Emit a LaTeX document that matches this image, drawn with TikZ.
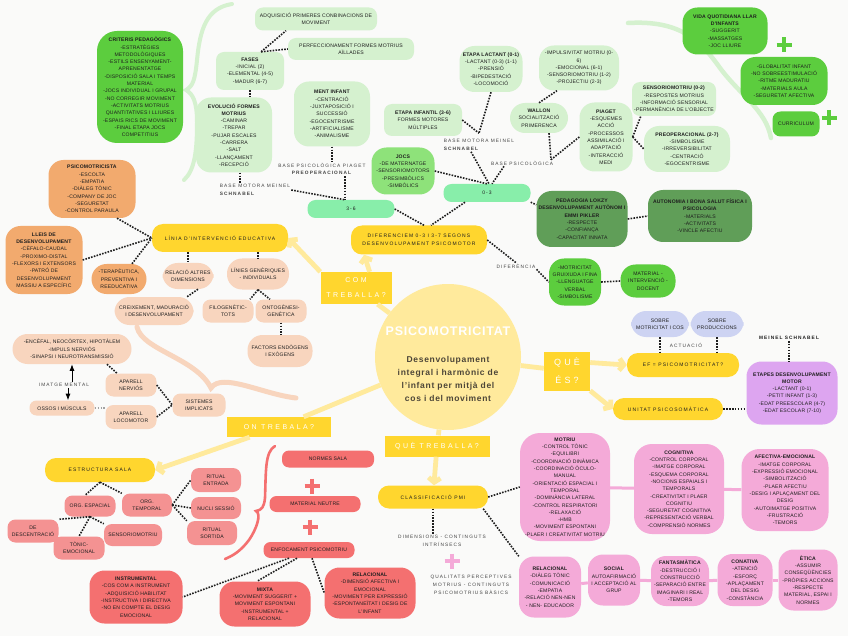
\documentclass[tikz,border=0pt]{standalone}
\usepackage{fontspec}
\setmainfont{Liberation Sans}
\newfontfamily\lletra[LetterSpace=3]{Liberation Sans}
\newfontfamily\lletrae[LetterSpace=22]{Liberation Sans}
\newfontfamily\lletral[LetterSpace=35]{Liberation Sans}
\newfontfamily\lletrat[LetterSpace=6]{Liberation Sans}
\newfontfamily\lletrad[LetterSpace=8]{Liberation Sans}
\usetikzlibrary{arrows.meta}
\definecolor{fons}{RGB}{250,250,249}
\definecolor{tinta}{RGB}{30,30,30}
\definecolor{gris}{RGB}{68,68,68}
\definecolor{marro}{RGB}{77,70,56}
\definecolor{groc}{RGB}{255,214,46}
\definecolor{grocc}{RGB}{255,234,156}
\definecolor{verdc}{RGB}{213,241,207}
\definecolor{menta}{RGB}{136,238,170}
\definecolor{verdm}{RGB}{142,226,122}
\definecolor{verd}{RGB}{92,205,62}
\definecolor{verdf}{RGB}{96,158,88}
\definecolor{taronja}{RGB}{242,170,110}
\definecolor{presseg}{RGB}{248,213,190}
\definecolor{lila}{RGB}{205,211,242}
\definecolor{morat}{RGB}{221,165,240}
\definecolor{vermell}{RGB}{244,146,146}
\definecolor{vermellf}{RGB}{244,112,112}
\definecolor{rosa}{RGB}{244,170,216}
\newcommand{\creu}[3]{\draw[#3,line width=3.8pt] (#1-7.5,#2) -- (#1+7.5,#2) (#1,#2-7.5) -- (#1,#2+7.5);}

\begin{document}
\begin{tikzpicture}[x=1pt,y=-1pt,>=Latex,
 b/.style={rounded corners=8pt,align=center,inner sep=1.5pt,font=\lletra\fontsize{5.1}{7.3}\selectfont,text=tinta},
 mida/.style 2 args={minimum width=#1,minimum height=#2},
 gran/.style={rounded corners=15pt},
 pill/.style={rounded corners=7pt},
 vc/.style={b,fill=verdc}, vm/.style={b,fill=verdm}, vv/.style={b,fill=verd}, vf/.style={b,fill=verdf},
 ta/.style={b,fill=taronja}, pr/.style={b,fill=presseg}, ll/.style={b,fill=lila}, mo/.style={b,fill=morat},
 vr/.style={b,fill=vermell}, vrf/.style={b,fill=vermellf}, rs/.style={b,fill=rosa},
 gr/.style={b,fill=groc,rounded corners=11pt,font=\lletrae\fontsize{5}{8}\selectfont},
 barra/.style={b,fill=menta,mida={87}{18},font=\lletrae\fontsize{5}{7}\selectfont},
 etiq/.style={fill=groc,text=white,align=center,inner sep=1pt,font=\lletral\fontsize{7}{15}\selectfont},
 n/.style={align=center,inner sep=1pt,text=gris,font=\lletrae\fontsize{4.8}{7.8}\selectfont},
 punts/.style={draw=tinta,line width=1.6pt,dash pattern=on 1.6pt off 1.3pt},
 tija/.style={draw=grocc,line width=4.8pt},
 fletxa/.style={tija,-{Straight Barb[length=4.5pt,width=12pt]}},
 rosal/.style={draw=rosa,line width=3pt}]
 \fill[fons] (0,0) rectangle (848,636);
 \useasboundingbox (0,0) rectangle (848,636);
 % claus decoratives
 \draw[verdc,line width=4pt,line cap=round] (232,4) .. controls (206,8) and (200,30) .. (197,60) .. controls (195,80) and (193,86) .. (186,90) .. controls (193,94) and (197,102) .. (197,122) .. controls (197,150) and (195,170) .. (184,180);
 \draw[verdc,line width=4.5pt,line cap=round] (628,23) .. controls (680,20) and (700,40) .. (720,68) .. controls (740,95) and (766,110) .. (771,138);
 \draw[presseg,line width=5pt,line cap=round] (137,327) .. controls (142,350) and (196,358) .. (211,388) .. controls (222,372) and (262,394) .. (296,398);
 \draw[vermellf,line width=2.6pt,line cap=round] (275,446) .. controls (265,452) and (266,470) .. (265,498) .. controls (264,507) and (262,510) .. (256,511) .. controls (262,514) and (256,530) .. (249,540) .. controls (240,552) and (232,556) .. (225,559);

 % centre
 \node[circle,fill=grocc,minimum size=146] (centre) at (448,357) {};
 \node[text=white,font=\lletrat\bfseries\fontsize{12.5}{14}\selectfont] (titol) at (448,331) {PSICOMOTRICITAT};
 \node[text=marro,align=center,font=\lletrad\bfseries\fontsize{8.5}{12.7}\selectfont] (defin) at (448,379) {Desenvolupament\\integral i harmònic de\\l’infant per mitjà del\\cos i del moviment};
 \node[etiq,minimum width=71,minimum height=32] (com) at (356,288) {COM\\TREBALLA?};
 \node[etiq,minimum width=46,minimum height=39,font=\lletral\fontsize{9}{18}\selectfont] (que) at (567,371) {QUÈ\\ÉS?};
 \node[etiq,minimum width=104,minimum height=20] (on) at (279,427) {ON TREBALA?};
 \node[etiq,minimum width=105,minimum height=21] (qt) at (437,446) {QUÈ TREBALLA?};

 % verd clar
 \node[vc,mida={122}{23}] (adq) at (316,19) {ADQUISICIÓ PRIMERES CONBINACIONS DE\\MOVIMENT};
 \node[vc,mida={126}{22}] (perf) at (351,49) {PERFECCIONAMENT FORMES MOTRIUS\\AÏLLADES};
 \node[vc,mida={68}{38}] (fases) at (250,71) {\textbf{FASES}\\-INICIAL (2)\\-ELEMENTAL (4-5)\\-MADUR (6-7)};
 \node[vc,gran,mida={76}{75}] (evol) at (234,135) {\textbf{EVOLUCIÓ FORMES}\\\textbf{MOTRIUS}\\-CAMINAR\\-TREPAR\\-PUJAR ESCALES\\-CARRERA\\-SALT\\-LLANÇAMENT\\-RECEPCIÓ};
 \node[vc,gran,mida={76}{65}] (ment) at (332,114) {\textbf{MENT INFANT}\\-CENTRACIÓ\\-JUXTAPOSICIÓ I\\SUCCESSIÓ\\-EGOCENTRISME\\-ARTIFICIALISME\\-ANIMALISME};
 \node[vc,mida={78}{32}] (etinf) at (423,120) {\textbf{ETAPA INFANTIL (3-6)}\\FORMES MOTORES\\MÚLTIPLES};
 \node[vc,gran,mida={63}{46}] (lact) at (491,69) {\textbf{ETAPA LACTANT (0-1)}\\-LACTANT (0-3) (1-1)\\-PRENSIÓ\\-BIPEDESTACIÓ\\-LOCOMOCIÓ};
 \node[vc,gran,mida={80}{45}] (impuls) at (579,68) {-IMPULSIVITAT MOTRIU (0-\\6)\\-EMOCIONAL (6-1)\\-SENSORIOMOTRIU (1-2)\\-PROJECTIU (2-3)};
 \node[vc,gran,mida={58}{30}] (wallon) at (539,118) {\textbf{WALLON}\\SOCIALITZACIÓ\\PRIMERENCA};
 \node[vc,gran,mida={53}{69}] (piaget) at (606,137) {\textbf{PIAGET}\\-ESQUEMES\\ACCIÓ\\-PROCESSOS\\ASSIMILACIÓ I\\ADAPTACIÓ\\-INTERACCIÓ\\MEDI};
 \node[vc,mida={84}{34}] (sens) at (674,99) {\textbf{SENSORIOMOTRIU (0-2)}\\-RESPOSTES MOTRIUS\\-INFORMACIÓ SENSORIAL\\-PERMANÈNCIA DE L'OBJECTE};
 \node[vc,gran,mida={86}{46}] (preop) at (687,149) {\textbf{PREOPERACIONAL (2-7)}\\-SIMBOLISME\\-IRREVERSIBILITAT\\-CENTRACIÓ\\-EGOCENTRISME};
 \node[barra] (b03) at (487,193) {0-3};
 \node[barra] (b36) at (351,209) {3-6};
 \node[vm,gran,mida={63}{47}] (jocs) at (403,171) {\textbf{JOCS}\\-DE MATERNATGE\\-SENSORIOMOTORS\\-PRESIMBÒLICS\\-SIMBÒLICS};

 % verd
 \node[vv,rounded corners=20pt,mida={86}{112}] (crit) at (140,87) {\textbf{CRITERIS PEDAGÒGICS}\\-ESTRATÈGIES\\METODOLÒGIQUES\\-ESTILS ENSENYAMENT-\\APRENENTATGE\\-DISPOSICIÓ SALA I TEMPS\\MATERIAL\\-JOCS INDIVIDUAL I GRUPAL\\-NO CORREGIR MOVIMENT\\-ACTIVITATS MOTRIUS\\QUANTITATIVES I LLIURES\\-ESPAIS RICS DE MOVIMENT\\-FINAL ETAPA JOCS\\COMPETITIUS};
 \node[vv,gran,mida={85}{47}] (vida) at (725,31) {\textbf{VIDA QUOTIDIANA LLAR}\\\textbf{D'INFANTS}\\-SUGGERIT\\-MASSATGES\\-JOC LLIURE};
 \node[vv,gran,mida={87}{48}] (glob) at (784,81) {-GLOBALITAT INFANT\\-NO SOBREESTIMULACIÓ\\-RITME MADURATIU\\-MATERIALS AULA\\-SEGURETAT AFECTIVA};
 \node[vv,mida={47}{25}] (curr) at (796,124) {CURRICULUM};
 \node[vv,gran,mida={52}{47}] (motr) at (575,282) {-MOTRICITAT\\GRUIXUDA I FINA\\-LLENGUATGE\\VERBAL\\-SIMBOLISME};
 \node[vv,gran,mida={55}{33}] (mat) at (648,281) {MATERIAL -\\INTERVENCIÓ -\\DOCENT};

 % verd fosc
 \node[vf,gran,mida={91}{56}] (ped) at (582,219) {\textbf{PEDAGOGIA LOKZY}\\\textbf{DESENVOLUPAMENT AUTÒNOM I}\\\textbf{EMMI PIKLER}\\-RESPECTE\\-CONFIANÇA\\-CAPACITAT INNATA};
 \node[vf,gran,mida={104}{52}] (aut) at (700,216) {\textbf{AUTONOMIA I BONA SALUT FÍSICA I}\\\textbf{PSICOLOGIA}\\-MATERIALS\\-ACTIVITATS\\-VINCLE AFECTIU};

 % lila i morat
 \node[ll,gran,mida={58}{26}] (sob1) at (660,324) {SOBRE\\MOTRICITAT I COS};
 \node[ll,gran,mida={53}{26}] (sob2) at (717,324) {SOBRE\\PRODUCCIONS};
 \node[mo,gran,mida={91}{63}] (etapes) at (792,393) {\textbf{ETAPES DESENVOLUPAMENT}\\\textbf{MOTOR}\\-LACTANT (0-1)\\-PETIT INFANT (1-3)\\-EDAT PREESCOLAR (4-7)\\-EDAT ESCOLAR (7-10)};

 % groc
 \node[gr,mida={136}{28}] (linia) at (220,238) {LÍNIA D'INTERVENCIÓ EDUCATIVA};
 \node[gr,mida={136}{29}] (dif) at (419,240) {DIFERENCIEM 0-3 I 3-7 SEGONS\\DESENVOLUPAMENT PSICOMOTOR};
 \node[gr,mida={112}{24}] (ef) at (683,365) {EF = PSICOMOTRICITAT?};
 \node[gr,mida={110}{22}] (unitat) at (668,409) {UNITAT PSICOSOMÀTICA};
 \node[gr,mida={110}{24}] (estr) at (100,470) {ESTRUCTURA SALA};
 \node[gr,mida={110}{23}] (classif) at (433,497) {CLASSIFICACIÓ PMI};

 % taronja i pressec
 \node[ta,gran,mida={87}{58}] (psicm) at (92,189) {\textbf{PSICOMOTRICISTA}\\-ESCOLTA\\-EMPATIA\\-DIÀLEG TÒNIC\\-COMPANY DE JOC\\-SEGURETAT\\-CONTROL PARAULA};
 \node[ta,gran,mida={77}{68}] (lleis) at (44,260) {\textbf{LLEIS DE}\\\textbf{DESENVOLUPAMENT}\\-CÈFALO-CAUDAL\\-PROXIMO-DISTAL\\-FLEXORS I EXTENSORS\\-PATRÓ DE\\DESENVOLUPAMENT\\MASSIU A ESPECÍFIC};
 \node[ta,gran,mida={55}{30}] (terap) at (119,279) {-TERAPÈUTICA,\\PREVENTIVA I\\REEDUCATIVA};
 \node[pr,gran,mida={51}{26}] (relal) at (188,276) {RELACIÓ ALTRES\\DIMENSIONS};
 \node[pr,gran,mida={62}{31}] (linies) at (258,274) {LÍNIES GENÈRIQUES\\- INDIVIDUALS};
 \node[pr,gran,mida={79}{28}] (creix) at (154,311) {CREIXEMENT, MADURACIÓ\\I DESENVOLUPAMENT};
 \node[pr,mida={51}{23}] (filo) at (228,311) {FILOGENÈTIC-\\TOTS};
 \node[pr,mida={51}{23}] (onto) at (281,311) {ONTOGÈNESI-\\GENÈTICA};
 \node[pr,gran,mida={65}{32}] (fact) at (280,351) {FACTORS ENDÒGENS\\I EXÒGENS};
 \node[pr,gran,mida={119}{30}] (ence) at (72,349) {-ENCÈFAL, NEOCÒRTEX, HIPOTÀLEM\\-IMPULS NERVIÓS\\-SINAPSI I NEUROTRANSMISSIÓ};
 \node[pr,mida={51}{23}] (apn) at (131,385) {APARELL\\NERVIÓS};
 \node[pr,pill,mida={65}{15}] (ossos) at (62,408) {OSSOS I MÚSCULS};
 \node[pr,mida={51}{24}] (apl) at (131,417) {APARELL\\LOCOMOTOR};
 \node[pr,mida={53}{23}] (sist) at (199,405) {SISTEMES\\IMPLICATS};
 \node[n] (imat) at (64,385) {IMATGE MENTAL};

 % vermell
 \node[vr,mida={51}{21}] (orgE) at (90,506) {ORG. ESPACIAL};
 \node[vr,mida={50}{23}] (orgT) at (147,505) {ORG.\\TEMPORAL};
 \node[vr,mida={51}{23}] (desc) at (33,531) {DE\\DESCENTRACIÓ};
 \node[vr,mida={51}{23}] (tonic) at (79,548) {TÒNIC-\\EMOCIONAL};
 \node[vr,mida={58}{22}] (sens2) at (133,535) {SENSORIOMOTRIU};
 \node[vr,mida={50}{24}] (ritE) at (216,480) {RITUAL\\ENTRADA};
 \node[vr,mida={50}{22}] (nucli) at (216,508) {NUCLI SESSIÓ};
 \node[vr,mida={50}{24}] (ritS) at (212,533) {RITUAL\\SORTIDA};
 \node[vrf,pill,mida={92}{17}] (norm) at (328,459) {NORMES SALA};
 \node[vrf,pill,mida={91}{16}] (matn) at (315,504) {MATERIAL NEUTRE};
 \node[vrf,pill,mida={91}{16}] (enf) at (309,550) {ENFOCAMENT PSICOMOTRIU};
 \node[vrf,gran,mida={93}{53}] (instr) at (136,597) {\textbf{INSTRUMENTAL}\\-COS COM A INSTRUMENT\\-ADQUISICIÓ HABILITAT\\-INSTRUCTIVA I DIRECTIVA\\-NO EN COMPTE EL DESIG\\EMOCIONAL};
 \node[vrf,gran,mida={91}{45}] (mixta) at (265,604) {\textbf{MIXTA}\\-MOVIMENT SUGGERIT +\\MOVIMENT ESPONTANI\\-INSTRUMENTAL +\\RELACIONAL};
 \node[vrf,gran,mida={91}{51}] (relc) at (370,593) {\textbf{RELACIONAL}\\-DIMENSIÓ AFECTIVA I\\EMOCIONAL\\-MOVIMENT PER EXPRESSIÓ\\-ESPONTANEÏTAT I DESIG DE\\L'INFANT};

 % rosa
 \node[rs,rounded corners=20pt,mida={90}{108}] (motriu) at (565,487) {\textbf{MOTRIU}\\-CONTROL TÒNIC\\-EQUILIBRI\\-COORDINACIÓ DINÀMICA\\-COORDINACIÓ ÒCULO-\\MANUAL\\-ORIENTACIÓ ESPACIAL I\\TEMPORAL\\-DOMINÀNCIA LATERAL\\-CONTROL RESPIRATORI\\-RELAXACIÓ\\-HMB\\-MOVIMENT ESPONTANI\\-PLAER I CREATIVITAT MOTRIU};
 \node[rs,rounded corners=18pt,mida={90}{90}] (cogn) at (679,489) {\textbf{COGNITIVA}\\-CONTROL CORPORAL\\-IMATGE CORPORAL\\-ESQUEMA CORPORAL\\-NOCIONS ESPAIALS I\\TEMPORALS\\-CREATIVITAT I PLAER\\COGNITIU\\-SEGURETAT COGNITIVA\\-REPRESENTACIÓ VERBAL\\-COMPRENSIÓ NORMES};
 \node[rs,rounded corners=18pt,mida={87}{82}] (afec) at (785,490) {\textbf{AFECTIVA-EMOCIONAL}\\-IMATGE CORPORAL\\-EXPRESSIÓ EMOCIONAL\\-SIMBOLITZACIÓ\\-PLAER AFECTIU\\-DESIG I APLAÇAMENT DEL\\DESIG\\-AUTOIMATGE POSITIVA\\-FRUSTRACIÓ\\-TEMORS};
 \node[rs,gran,mida={62}{61}] (relp) at (550,587) {\textbf{RELACIONAL}\\-DIÀLEG TÒNIC\\-COMUNICACIÓ\\-EMPATIA\\-RELACIÓ NEN-NEN\\- NEN- EDUCADOR};
 \node[rs,gran,mida={52}{51}] (social) at (614,580) {\textbf{SOCIAL}\\AUTOAFIRMACIÓ\\I ACCEPTACIÓ AL\\GRUP};
 \node[rs,gran,mida={58}{50}] (fant) at (680,581) {\textbf{FANTASMÀTICA}\\-DESTRUCCIÓ I\\CONSTRUCCIÓ\\-SEPARACIÓ ENTRE\\IMAGINARI I REAL\\-TEMORS};
 \node[rs,gran,mida={55}{52}] (conat) at (745,580) {\textbf{CONATIVA}\\-ATENCIÓ\\-ESFORÇ\\-APLAÇAMENT\\DEL DESIG\\-CONSTÀNCIA};
 \node[rs,gran,mida={59}{61}] (etica) at (808,580) {\textbf{ÈTICA}\\-ASSUMIR\\CONSEQÜÈNCIES\\-PRÒPIES ACCIONS\\-RESPECTE\\MATERIAL, ESPAI I\\NORMES};

 % textos solts
 \node[n,align=left] (bm1) at (255,190) {BASE MOTORA MEINEL\\\textbf{SCHNABEL}};
 \node[n] (bpp) at (322,169) {BASE PSICOLÒGICA PIAGET\\\textbf{PREOPERACIONAL}};
 \node[n,align=left] (bm2) at (479,145) {BASE MOTORA MEINEL\\\textbf{SCHNABEL}};
 \node[n] (bps) at (522,163) {BASE PSICOLÒGICA};
 \node[n] (difl) at (516,266) {DIFERÈNCIA};
 \node[n] (act) at (686,345) {ACTUACIÓ};
 \node[n,text=tinta,font=\lletrae\bfseries\fontsize{4.8}{7.8}\selectfont] (mein) at (789,338) {MEINEL SCHNABEL};
 \node[n] (dimc) at (442,541) {DIMENSIONS - CONTINGUTS\\INTRÍNSECS};
 \node[n] (qual) at (471,585) {QUALITATS PERCEPTIVES\\MOTRIUS - CONTINGUTS\\PSICOMOTRIUS BÀSICS};

 \creu{784}{45}{verd}
 \creu{829}{118}{verd}
 \creu{312}{486}{vermellf}
 \creu{310}{527}{vermellf}
 \creu{452}{561}{rosa}

 % branques grogues
 \draw[tija] (centre) -- (com);
 \draw[fletxa] (com.north west) -- (linia.east);
 \draw[fletxa] (com.50) -- (dif.195);
 \draw[tija] (centre) -- (que);
 \draw[fletxa] (que.20) -- (ef.west);
 \draw[fletxa] (que.south east) -- (unitat.west);
 \draw[tija] (centre) -- (on);
 \draw[fletxa] (on) -- (estr.east);
 \draw[tija] (centre) -- (qt);
 \draw[fletxa] (qt) -- (classif);

 % enllacos puntejats
 \draw[punts] (fases.60) -- ([xshift=-30]adq.south);
 \draw[punts] (fases.60) -- (perf.west);
 \draw[punts] (fases.south) -- (fases.south |- evol.north);
 \draw[punts] ([xshift=6]evol.south) -- ([xshift=6]evol.south |- bm1.north);
 \draw[punts] (bm1.east) -- ([xshift=-6]b36.north);
 \draw[punts] (ment.south) -- (ment.south |- bpp.north);
 \draw[punts] ([xshift=-6]b36.north |- bpp.south) -- ([xshift=-6]b36.north);
 \draw[punts] (jocs.east) -- (b03.north);
 \draw[punts] (etinf.east) -- ([yshift=5]bm2.north);
 \draw[punts] (lact.south) -- ([yshift=5]bm2.north);
 \draw[punts] ([xshift=-8]bm2.south) -- ([xshift=2]b03.north);
 \draw[punts] ([xshift=-18]bps.south) -- ([xshift=5]b03.north);
 \draw[punts] (wallon.north) -- ([xshift=-22]impuls.south);
 \draw[punts] ([xshift=10]wallon.south) -- ([xshift=29]bps.north);
 \draw[punts] (piaget.west) -- ([xshift=29]bps.north);
 \draw[punts] (piaget.east) -- ([xshift=9]sens.south west);
 \draw[punts] (piaget.east) -- (preop.west);
 \draw[punts] (b03.south east) -- ([yshift=-14]ped.north west);
 \draw[punts] ([xshift=-22]b03.south) -- ([xshift=12]dif.north);
 \draw[punts] (b36.east) -- ([xshift=5]dif.north);
 \draw[punts] (dif.east) -- (difl.north);
 \draw[punts] (difl.south east) -- (motr.west);
 \draw[punts] (motr.east) -- (mat.west);
 \draw[punts] (ped.east) -- (aut.west);
 \draw[punts] (sob1.south) -- (sob1.south |- ef.north);
 \draw[punts] (sob2.south) -- (sob2.south |- ef.north);
 \draw[punts] (mein.south) -- (mein.south |- etapes.north);
 \draw[punts] (unitat.east) -- (unitat.east -| etapes.west);
 \draw[punts] ([xshift=25]psicm.south) -- (linia.west);
 \draw[punts] (lleis.east) -- (linia.west);
 \draw[punts] ([xshift=13]terap.north) -- (linia.west);
 \draw[punts] (relal.north |- linia.south) -- (relal.north);
 \draw[punts] (linies.north |- linia.south) -- (linies.north);
 \draw[punts] ([xshift=10]relal.south) -- ([xshift=33]creix.north);
 \draw[punts] (linies.south) -- ([xshift=22]filo.north);
 \draw[punts] (linies.south) -- ([xshift=-11]onto.north);
 \draw[punts] (onto.south) -- (onto.south |- fact.north);
 \draw[punts] ([xshift=35]ence.south) -- ([xshift=-14]apn.north);
 \draw[punts] (apn.east) -- (sist.west);
 \draw[punts] (apl.east) -- (sist.west);
 \draw[punts,draw=gris!50,line width=1.2pt] (ossos.east) -- (ossos.east -| apl.west);
 \draw[->,line width=0.8pt] ([xshift=8]imat.north) -- ([xshift=8]imat.north |- ence.south);
 \draw[->,line width=0.8pt] ([xshift=4]imat.south) -- ([xshift=4]imat.south |- ossos.north);
 \draw[punts] (estr.south) -- ([xshift=-5]orgE.north);
 \draw[punts] (estr.south) -- (orgT.north west);
 \draw[punts] (orgE.south) -- (desc.north east);
 \draw[punts] (orgE.south) -- (tonic.north);
 \draw[punts] (orgE.south) -- (sens2.north west);
 \draw[punts] (orgT.east) -- (ritE.west);
 \draw[punts] (orgT.east) -- (nucli.west);
 \draw[punts] (orgT.east) -- (ritS.north west);
 \draw[punts] ([xshift=-20]enf.south) -- (instr.east);
 \draw[punts] ([xshift=-12]enf.south) -- ([xshift=-8]mixta.north);
 \draw[punts] ([xshift=3]enf.south) -- (relc.west);
 \draw[punts] (classif.east) -- (motriu.west);
 \draw[punts] ([xshift=-5]classif.south east) -- (relp.north west);
 \draw[punts] (classif.south) -- (classif.south |- dimc.north);

 % enllacos rosa
 \draw[rosal] (motriu) -- (cogn);
 \draw[rosal] (cogn) -- (afec);
 \draw[rosal] (relp) -- (social);
 \draw[rosal] (social) -- (fant);
 \draw[rosal] (fant) -- (conat);
 \draw[rosal] (conat) -- (etica);
\end{tikzpicture}
\end{document}
